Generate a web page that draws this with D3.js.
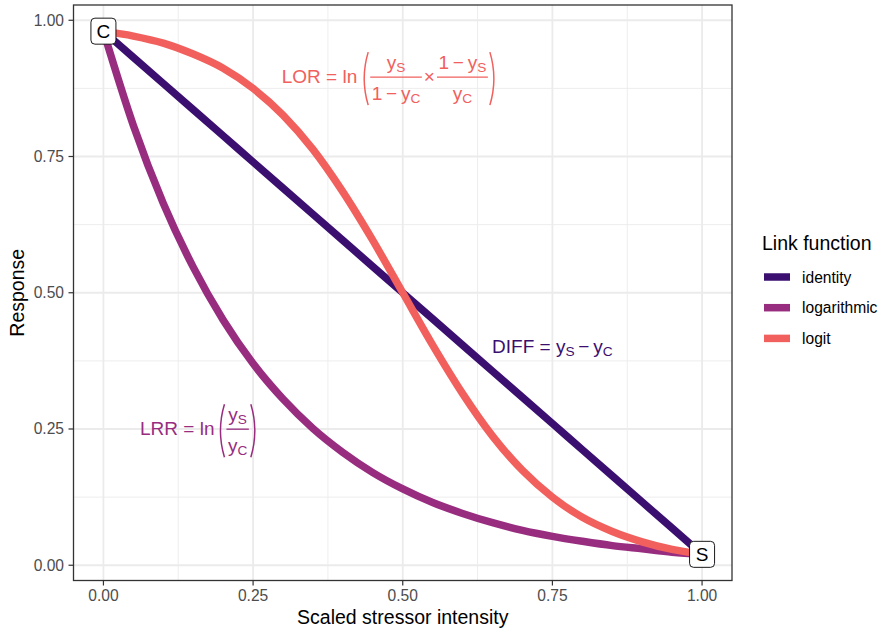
<!DOCTYPE html>
<html>
<head>
<meta charset="utf-8">
<script src="https://cdn.jsdelivr.net/npm/d3@7"></script>
<style>
  body { margin: 0; background: #fff; }
  svg { display: block; font-family: "Liberation Sans", Arial, sans-serif; }
</style>
</head>
<body>
<svg id="chart" width="883" height="633"></svg>
<script>
// values
var stressor = [0, 0.05, 0.1, 0.15, 0.2, 0.25, 0.3, 0.35, 0.4, 0.45, 0.5,
  0.55, 0.6, 0.65, 0.7, 0.75, 0.8, 0.85, 0.9, 0.95, 1];
var identityResp = [0.98, 0.932, 0.884, 0.836, 0.788, 0.74, 0.692, 0.644, 0.596, 0.548, 0.5,
  0.452, 0.404, 0.356, 0.308, 0.26, 0.212, 0.164, 0.116, 0.068, 0.02];
var logarithmicResp = [0.98, 0.807, 0.664, 0.547, 0.45, 0.37, 0.305, 0.251, 0.207, 0.17, 0.14,
  0.115, 0.095, 0.078, 0.064, 0.053, 0.044, 0.036, 0.03, 0.024, 0.02];
var logitResp = [0.98, 0.971, 0.958, 0.938, 0.912, 0.875, 0.826, 0.763, 0.685, 0.596, 0.5,
  0.404, 0.315, 0.237, 0.174, 0.125, 0.088, 0.062, 0.043, 0.029, 0.02];

var linkNames = ["identity", "logarithmic", "logit"];
var linkColors = ["#3b0f70", "#982d80", "#f1605d"];
var xTicks = [0, 0.25, 0.5, 0.75, 1];
var yTicks = [0, 0.25, 0.5, 0.75, 1];
var minorTicks = [0.125, 0.375, 0.625, 0.875];
var tickLabels = ["0.00", "0.25", "0.50", "0.75", "1.00"];

var series = [identityResp, logarithmicResp, logitResp].map(function (vals, i) {
  return { name: linkNames[i], color: linkColors[i],
    points: vals.map(function (v, j) { return [stressor[j], v]; }) };
});

var panel = { left: 73.5, right: 732, top: 5, bottom: 580.5 };
var svg = d3.select("#chart");
var x = d3.scaleLinear().domain([-0.05, 1.05]).range([panel.left, panel.right]);
var y = d3.scaleLinear().domain([-0.028, 1.028]).range([panel.bottom, panel.top]);

svg.append("rect").attr("width", 883).attr("height", 633).attr("fill", "#fff");

// grid
var grid = svg.append("g").attr("stroke", "#ebebeb").attr("fill", "none");
minorTicks.forEach(function (t) {
  grid.append("line").attr("x1", x(t)).attr("x2", x(t)).attr("y1", panel.top).attr("y2", panel.bottom).attr("stroke-width", 0.9);
  grid.append("line").attr("y1", y(t)).attr("y2", y(t)).attr("x1", panel.left).attr("x2", panel.right).attr("stroke-width", 0.9);
});
xTicks.forEach(function (t) {
  grid.append("line").attr("x1", x(t)).attr("x2", x(t)).attr("y1", panel.top).attr("y2", panel.bottom).attr("stroke-width", 1.8);
});
yTicks.forEach(function (t) {
  grid.append("line").attr("y1", y(t)).attr("y2", y(t)).attr("x1", panel.left).attr("x2", panel.right).attr("stroke-width", 1.8);
});

// curves
var line = d3.line().x(function (d) { return x(d[0]); }).y(function (d) { return y(d[1]); })
  .curve(d3.curveMonotoneX);
svg.append("g").selectAll("path").data(series).join("path")
  .attr("d", function (d) { return line(d.points); })
  .attr("fill", "none")
  .attr("stroke", function (d) { return d.color; })
  .attr("stroke-width", 7.5);

// formula helpers
function addRuns(g, x0, parts, size) {
  var t = g.append("text").attr("x", x0).attr("y", 0).style("font-size", size + "px");
  var shift = 0;
  parts.forEach(function (p) {
    if (typeof p === "string") {
      t.append("tspan").attr("dy", -shift).text(p);
      shift = 0;
    } else {
      t.append("tspan").attr("dy", -shift).text(p[0]);
      t.append("tspan").attr("dy", 3).style("font-size", (size * 0.72) + "px").text(p[1]);
      shift = 3;
    }
  });
  return t.node().getComputedTextLength();
}

function paren(g, x0, right, color) {
  var d = right ? "M" + (x0 + 2) + ",-31 Q" + (x0 + 10) + ",-4.5 " + (x0 + 2) + ",22"
    : "M" + (x0 + 7) + ",-31 Q" + (x0 - 1) + ",-4.5 " + (x0 + 7) + ",22";
  g.append("path").attr("d", d).attr("fill", "none").attr("stroke", color).attr("stroke-width", 1.5);
}

function layoutItems(g, items, x0, size, color) {
  var cx = x0;
  items.forEach(function (it) {
    if (it.gap) {
      cx += it.gap;
    } else if (it.frac) {
      var num = g.append("g"), den = g.append("g");
      var wn = addRuns(num, 0, it.frac[0], size), wd = addRuns(den, 0, it.frac[1], size);
      var w = Math.max(wn, wd) + 3;
      num.attr("transform", "translate(" + (cx + (w - wn) / 2) + ",-14)");
      den.attr("transform", "translate(" + (cx + (w - wd) / 2) + ",17)");
      g.append("line").attr("x1", cx).attr("x2", cx + w).attr("y1", -6).attr("y2", -6)
        .attr("stroke", color).attr("stroke-width", 1.3);
      cx += w;
    } else if (it.paren) {
      paren(g, cx, false, color);
      cx = layoutItems(g, it.paren, cx + 9, size, color);
      paren(g, cx, true, color);
      cx += 9;
    } else {
      cx += addRuns(g, cx, it.runs, size);
    }
  });
  return cx;
}

function formula(items, px, py, color) {
  var g = svg.append("g").attr("fill", color);
  layoutItems(g, items, 0, 19, color);
  var bb = g.node().getBBox();
  g.attr("transform", "translate(" + (x(px) - bb.x - bb.width / 2) + "," + (y(py) - bb.y - bb.height / 2) + ")");
}

var MINUS = "\u2009\u2212\u2009";

formula([{ runs: ["LOR = ln"] }, { gap: 4 },
  { paren: [
    { frac: [[["y", "S"]], ["1" + MINUS, ["y", "C"]]] }, { gap: 2 },
    { runs: ["\u00d7"] }, { gap: 2 },
    { frac: [["1" + MINUS, ["y", "S"]], [["y", "C"]]] }
  ] }], 0.475, 0.892, linkColors[2]);

formula([{ runs: ["DIFF = ", ["y", "S"], MINUS, ["y", "C"]] }], 0.75, 0.4, linkColors[0]);

formula([{ runs: ["LRR = ln"] }, { gap: 3 },
  { paren: [{ frac: [[["y", "S"]], [["y", "C"]]] }] }], 0.157, 0.246, linkColors[1]);

// C / S labels
var ends = [
  { label: "C", x: stressor[0], y: identityResp[0] },
  { label: "S", x: stressor[stressor.length - 1], y: identityResp[identityResp.length - 1] }
];
var lab = svg.append("g").selectAll("g").data(ends).join("g")
  .attr("transform", function (d) { return "translate(" + x(d.x) + "," + y(d.y) + ")"; });
lab.append("rect").attr("x", -12.5).attr("y", -13).attr("width", 25).attr("height", 26)
  .attr("rx", 4).attr("fill", "#fff").attr("stroke", "#000").attr("stroke-width", 0.9);
lab.append("text").attr("text-anchor", "middle").attr("y", 7).style("font-size", "19px")
  .text(function (d) { return d.label; });

// panel border
svg.append("rect").attr("x", panel.left).attr("y", panel.top)
  .attr("width", panel.right - panel.left).attr("height", panel.bottom - panel.top)
  .attr("fill", "none").attr("stroke", "#333").attr("stroke-width", 1.3);

// axes
var xAxis = svg.append("g");
xTicks.forEach(function (t, i) {
  xAxis.append("line").attr("x1", x(t)).attr("x2", x(t)).attr("y1", panel.bottom).attr("y2", panel.bottom + 5)
    .attr("stroke", "#333").attr("stroke-width", 1.2);
  xAxis.append("text").attr("x", x(t)).attr("y", 601).attr("text-anchor", "middle")
    .attr("fill", "#4d4d4d").style("font-size", "15.6px").text(tickLabels[i]);
});
var yAxis = svg.append("g");
yTicks.forEach(function (t, i) {
  yAxis.append("line").attr("y1", y(t)).attr("y2", y(t)).attr("x1", panel.left - 5).attr("x2", panel.left)
    .attr("stroke", "#333").attr("stroke-width", 1.2);
  yAxis.append("text").attr("x", 64).attr("y", y(t) + 5.5).attr("text-anchor", "end")
    .attr("fill", "#4d4d4d").style("font-size", "15.6px").text(tickLabels[i]);
});

svg.append("text").attr("x", (panel.left + panel.right) / 2).attr("y", 624).attr("text-anchor", "middle")
  .style("font-size", "19.5px").text("Scaled stressor intensity");
svg.append("text").attr("transform", "translate(24," + ((panel.top + panel.bottom) / 2) + ") rotate(-90)")
  .attr("text-anchor", "middle").style("font-size", "19.5px").text("Response");

// legend
var legend = svg.append("g").attr("transform", "translate(762,0)");
legend.append("text").attr("x", 0).attr("y", 250).style("font-size", "19.5px").text("Link function");
var keys = legend.selectAll("g").data(series).join("g")
  .attr("transform", function (d, i) { return "translate(0," + (277 + i * 30.7) + ")"; });
keys.append("line").attr("x1", 2).attr("x2", 28).attr("stroke", function (d) { return d.color; })
  .attr("stroke-width", 7.5);
keys.append("text").attr("x", 40).attr("y", 5.5).style("font-size", "15.6px")
  .text(function (d) { return d.name; });
</script>
</body>
</html>
